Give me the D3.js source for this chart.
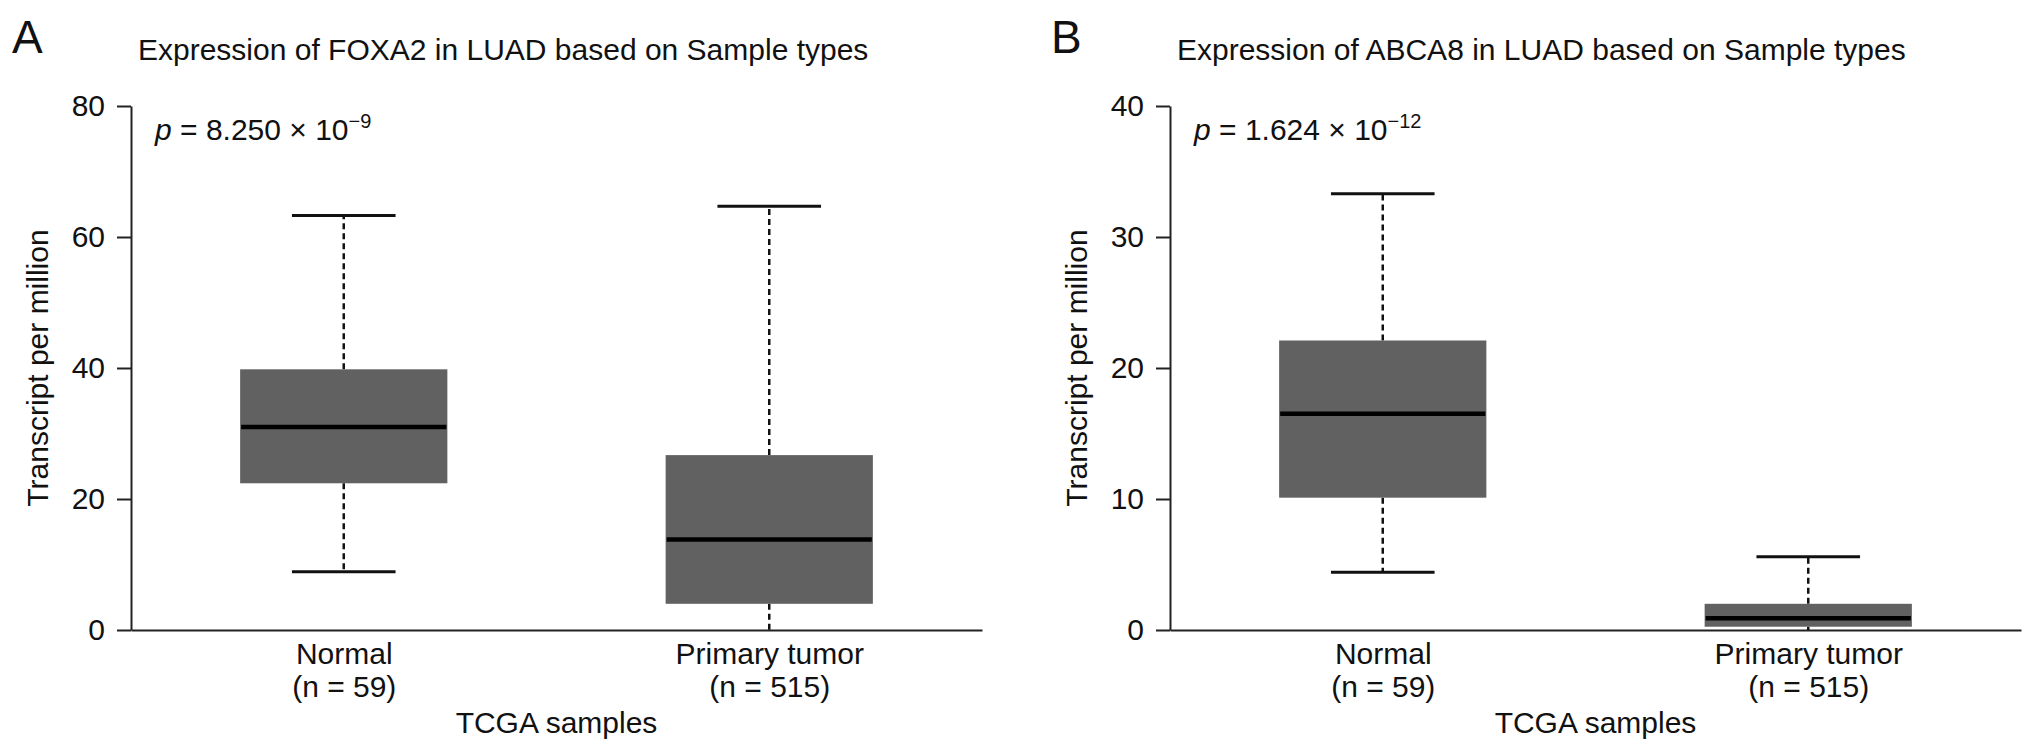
<!DOCTYPE html>
<html>
<head>
<meta charset="utf-8">
<script src="https://cdn.jsdelivr.net/npm/d3@7"></script>
<style>
  html, body { margin: 0; padding: 0; background: #fff; }
  svg { display: block; }
  text { font-family: "Liberation Sans", Arial, Helvetica, sans-serif; fill: #111; }
</style>
</head>
<body>
<div id="chart"></div>
<script>
const categories = ["Normal", "Primary tumor"];
const sampleCounts = [59, 515];

// FOXA2 (panel A)
const foxa2Min = [8.9, 0];
const foxa2Q1 = [22.4, 4.0];
const foxa2Median = [31.0, 13.8];
const foxa2Q3 = [39.8, 26.7];
const foxa2Max = [63.3, 64.7];
const foxa2Ticks = [0, 20, 40, 60, 80];

// ABCA8 (panel B)
const abca8Min = [4.4, 0];
const abca8Q1 = [10.1, 0.25];
const abca8Median = [16.5, 0.9];
const abca8Q3 = [22.1, 2.0];
const abca8Max = [33.3, 5.6];
const abca8Ticks = [0, 10, 20, 30, 40];

const panelLabels = ["A", "B"];
const panelTitles = [
  "Expression of FOXA2 in LUAD based on Sample types",
  "Expression of ABCA8 in LUAD based on Sample types"
];
const pMantissas = ["8.250", "1.624"];
const pExponents = ["\u22129", "\u221212"];

const width = 2032;
const height = 754;
const fontSize = 30;

function buildStats(mins, q1s, medians, q3s, maxs) {
  return categories.map((cat, i) => ({
    cat,
    min: mins[i],
    q1: q1s[i],
    median: medians[i],
    q3: q3s[i],
    max: maxs[i]
  }));
}

function renderBoxPanel({ svg, left, right, top, bottom, label, title, stats, ticks, pMantissa, pExponent }) {
  const g = svg.append("g");

  const x = d3.scalePoint().domain(categories).range([left, right]).padding(0.5);
  const y = d3.scaleLinear().domain([0, d3.max(ticks)]).range([bottom, top]);
  const boxWidth = x.step() * 0.487;
  const capWidth = boxWidth / 2;

  // panel letter and title
  g.append("text")
    .attr("x", left - 119)
    .attr("y", 53)
    .attr("font-size", 46)
    .text(label);

  g.append("text")
    .attr("x", left + 7)
    .attr("y", 60)
    .attr("font-size", fontSize)
    .text(title);

  // y axis
  const yAxis = g.append("g")
    .attr("transform", `translate(${left},0)`)
    .call(d3.axisLeft(y).tickValues(ticks).tickSize(14).tickSizeOuter(0).tickPadding(12));
  yAxis.selectAll("path, line").attr("stroke", "#222").attr("stroke-width", 2);
  yAxis.selectAll("text").attr("font-size", fontSize).attr("font-family", null).attr("fill", "#111");

  // x axis: baseline only, two-line category labels
  const xAxis = g.append("g")
    .attr("transform", `translate(0,${bottom})`)
    .call(d3.axisBottom(x).tickSize(0).tickSizeOuter(0).tickPadding(13));
  xAxis.select(".domain").attr("stroke", "#222").attr("stroke-width", 2);
  xAxis.selectAll(".tick text")
    .attr("font-size", fontSize)
    .attr("font-family", null)
    .attr("fill", "#111")
    .text(null)
    .each(function (d) {
      const i = categories.indexOf(d);
      const t = d3.select(this);
      t.append("tspan").attr("x", 0).text(d);
      t.append("tspan").attr("x", 0).attr("dy", 33).text(`(n = ${sampleCounts[i]})`);
    });

  g.append("text")
    .attr("x", (left + right) / 2)
    .attr("y", 733)
    .attr("text-anchor", "middle")
    .attr("font-size", fontSize)
    .text("TCGA samples");

  g.append("text")
    .attr("transform", `translate(${left - 83},${(top + bottom) / 2}) rotate(-90)`)
    .attr("text-anchor", "middle")
    .attr("font-size", fontSize)
    .text("Transcript per million");

  // p value
  const pText = g.append("text")
    .attr("x", left + 24)
    .attr("y", 140)
    .attr("font-size", fontSize);
  pText.append("tspan").attr("font-style", "italic").text("p");
  pText.append("tspan").text(` = ${pMantissa} \u00d7 10`);
  pText.append("tspan").attr("font-size", 20).attr("dy", -12).text(pExponent);

  // boxes
  const boxes = g.selectAll(".box")
    .data(stats)
    .join("g")
    .attr("class", "box");

  boxes.append("line")
    .attr("x1", (d) => x(d.cat))
    .attr("x2", (d) => x(d.cat))
    .attr("y1", (d) => y(d.q3))
    .attr("y2", (d) => y(d.max))
    .attr("stroke", "#111")
    .attr("stroke-width", 2.5)
    .attr("stroke-dasharray", "6,4");

  boxes.append("line")
    .attr("x1", (d) => x(d.cat))
    .attr("x2", (d) => x(d.cat))
    .attr("y1", (d) => y(d.q1))
    .attr("y2", (d) => y(d.min))
    .attr("stroke", "#111")
    .attr("stroke-width", 2.5)
    .attr("stroke-dasharray", "6,4");

  boxes.selectAll(".cap")
    .data((d) => [d.max, d.min].filter((v) => v > 0))
    .join("line")
    .attr("class", "cap")
    .attr("x1", function () { return x(d3.select(this.parentNode).datum().cat) - capWidth / 2; })
    .attr("x2", function () { return x(d3.select(this.parentNode).datum().cat) + capWidth / 2; })
    .attr("y1", (v) => y(v))
    .attr("y2", (v) => y(v))
    .attr("stroke", "#111")
    .attr("stroke-width", 3);

  boxes.append("rect")
    .attr("x", (d) => x(d.cat) - boxWidth / 2)
    .attr("y", (d) => y(d.q3))
    .attr("width", boxWidth)
    .attr("height", (d) => y(d.q1) - y(d.q3))
    .attr("fill", "#616161");

  boxes.append("line")
    .attr("x1", (d) => x(d.cat) - boxWidth / 2 + 1)
    .attr("x2", (d) => x(d.cat) + boxWidth / 2 - 1)
    .attr("y1", (d) => y(d.median))
    .attr("y2", (d) => y(d.median))
    .attr("stroke", "#000")
    .attr("stroke-width", 4.5);
}

const svg = d3.select("#chart")
  .append("svg")
  .attr("width", width)
  .attr("height", height)
  .attr("viewBox", `0 0 ${width} ${height}`);

renderBoxPanel({
  svg,
  left: 131,
  right: 982,
  top: 106,
  bottom: 630,
  label: panelLabels[0],
  title: panelTitles[0],
  stats: buildStats(foxa2Min, foxa2Q1, foxa2Median, foxa2Q3, foxa2Max),
  ticks: foxa2Ticks,
  pMantissa: pMantissas[0],
  pExponent: pExponents[0]
});

renderBoxPanel({
  svg,
  left: 1170,
  right: 2021,
  top: 106,
  bottom: 630,
  label: panelLabels[1],
  title: panelTitles[1],
  stats: buildStats(abca8Min, abca8Q1, abca8Median, abca8Q3, abca8Max),
  ticks: abca8Ticks,
  pMantissa: pMantissas[1],
  pExponent: pExponents[1]
});
</script>
</body>
</html>
